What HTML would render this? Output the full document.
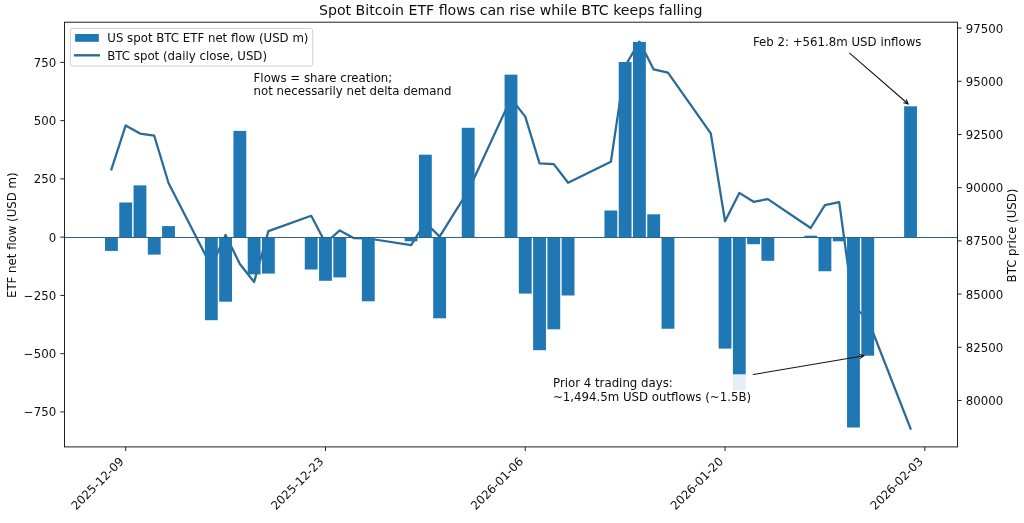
<!DOCTYPE html>
<html lang="en"><head><meta charset="utf-8"><title>Spot Bitcoin ETF flows can rise while BTC keeps falling</title>
<style>html,body{margin:0;padding:0;background:#fff;}body{width:1024px;height:523px;overflow:hidden;}svg{display:block;}text{font-family:"DejaVu Sans","Liberation Sans",sans-serif;fill:#0d0d0d;}</style></head><body>
<svg width="1024" height="523" viewBox="0 0 1024 523">
<rect width="1024" height="523" fill="#ffffff"/>
<polyline points="111.43,169.30 125.70,125.40 139.97,133.60 154.24,135.70 168.51,183.00 211.32,266.50 225.59,235.00 239.86,264.00 254.13,282.00 268.40,231.10 311.21,215.80 325.48,243.00 339.75,230.40 354.02,238.20 368.29,238.50 411.10,245.10 425.37,222.50 439.64,236.60 453.91,213.60 468.18,191.00 510.99,98.50 525.26,116.60 539.53,163.30 553.80,164.10 568.07,182.70 610.88,161.80 625.15,66.00 639.42,41.60 653.69,69.40 667.96,72.70 710.77,133.40 725.04,221.20 739.31,192.90 753.58,201.80 767.85,199.10 810.66,228.00 824.93,205.20 839.20,202.20 853.47,306.50 867.74,319.00 910.55,428.60" fill="none" stroke="#296a98" stroke-width="2.25" stroke-linejoin="round" stroke-linecap="square"/>
<rect x="105.01" y="237.15" width="12.84" height="13.75" fill="#1f77b4"/>
<rect x="119.28" y="202.50" width="12.84" height="34.65" fill="#1f77b4"/>
<rect x="133.55" y="185.40" width="12.84" height="51.75" fill="#1f77b4"/>
<rect x="147.82" y="237.15" width="12.84" height="17.45" fill="#1f77b4"/>
<rect x="162.09" y="226.10" width="12.84" height="11.05" fill="#1f77b4"/>
<rect x="204.90" y="237.15" width="12.84" height="83.05" fill="#1f77b4"/>
<rect x="219.17" y="237.15" width="12.84" height="64.55" fill="#1f77b4"/>
<rect x="233.44" y="130.90" width="12.84" height="106.25" fill="#1f77b4"/>
<rect x="247.71" y="237.15" width="12.84" height="37.25" fill="#1f77b4"/>
<rect x="261.98" y="237.15" width="12.84" height="36.45" fill="#1f77b4"/>
<rect x="304.79" y="237.15" width="12.84" height="32.35" fill="#1f77b4"/>
<rect x="319.06" y="237.15" width="12.84" height="43.65" fill="#1f77b4"/>
<rect x="333.33" y="237.15" width="12.84" height="40.25" fill="#1f77b4"/>
<rect x="361.87" y="237.15" width="12.84" height="64.15" fill="#1f77b4"/>
<rect x="404.68" y="237.15" width="12.84" height="4.15" fill="#1f77b4"/>
<rect x="418.95" y="154.70" width="12.84" height="82.45" fill="#1f77b4"/>
<rect x="433.22" y="237.15" width="12.84" height="81.15" fill="#1f77b4"/>
<rect x="461.76" y="127.80" width="12.84" height="109.35" fill="#1f77b4"/>
<rect x="504.57" y="74.65" width="12.84" height="162.50" fill="#1f77b4"/>
<rect x="518.84" y="237.15" width="12.84" height="56.45" fill="#1f77b4"/>
<rect x="533.11" y="237.15" width="12.84" height="113.05" fill="#1f77b4"/>
<rect x="547.38" y="237.15" width="12.84" height="92.15" fill="#1f77b4"/>
<rect x="561.65" y="237.15" width="12.84" height="58.35" fill="#1f77b4"/>
<rect x="604.46" y="210.50" width="12.84" height="26.65" fill="#1f77b4"/>
<rect x="618.73" y="62.00" width="12.84" height="175.15" fill="#1f77b4"/>
<rect x="633.00" y="41.90" width="12.84" height="195.25" fill="#1f77b4"/>
<rect x="647.27" y="214.30" width="12.84" height="22.85" fill="#1f77b4"/>
<rect x="661.54" y="237.15" width="12.84" height="91.60" fill="#1f77b4"/>
<rect x="718.62" y="237.15" width="12.84" height="111.45" fill="#1f77b4"/>
<rect x="732.89" y="237.15" width="12.84" height="153.15" fill="#1f77b4"/>
<rect x="747.16" y="237.15" width="12.84" height="7.05" fill="#1f77b4"/>
<rect x="761.43" y="237.15" width="12.84" height="23.65" fill="#1f77b4"/>
<rect x="804.24" y="235.70" width="12.84" height="1.45" fill="#1f77b4"/>
<rect x="818.51" y="237.15" width="12.84" height="34.10" fill="#1f77b4"/>
<rect x="832.78" y="237.15" width="12.84" height="4.15" fill="#1f77b4"/>
<rect x="847.05" y="237.15" width="12.84" height="190.35" fill="#1f77b4"/>
<rect x="861.32" y="237.15" width="12.84" height="118.55" fill="#1f77b4"/>
<rect x="904.13" y="106.30" width="12.84" height="130.85" fill="#1f77b4"/>
<line x1="64.50" y1="237.45" x2="957.50" y2="237.45" stroke="#2b6288" stroke-width="1.05"/>
<rect x="250.0" y="68.5" width="206" height="32" rx="2.4" fill="#ffffff" fill-opacity="0.88"/>
<rect x="549.3" y="374.3" width="206" height="32" rx="2.4" fill="#ffffff" fill-opacity="0.88"/>
<rect x="64.50" y="22.20" width="893.00" height="424.70" fill="none" stroke="#151515" stroke-width="0.95"/>
<line x1="60.35" y1="62.38" x2="64.50" y2="62.38" stroke="#151515" stroke-width="0.95"/>
<text x="56.20" y="66.88" font-size="11.78" text-anchor="end">750</text>
<line x1="60.35" y1="120.64" x2="64.50" y2="120.64" stroke="#151515" stroke-width="0.95"/>
<text x="56.20" y="125.14" font-size="11.78" text-anchor="end">500</text>
<line x1="60.35" y1="178.89" x2="64.50" y2="178.89" stroke="#151515" stroke-width="0.95"/>
<text x="56.20" y="183.39" font-size="11.78" text-anchor="end">250</text>
<line x1="60.35" y1="237.15" x2="64.50" y2="237.15" stroke="#151515" stroke-width="0.95"/>
<text x="56.20" y="241.65" font-size="11.78" text-anchor="end">0</text>
<line x1="60.35" y1="295.41" x2="64.50" y2="295.41" stroke="#151515" stroke-width="0.95"/>
<text x="56.20" y="299.91" font-size="11.78" text-anchor="end">−250</text>
<line x1="60.35" y1="353.67" x2="64.50" y2="353.67" stroke="#151515" stroke-width="0.95"/>
<text x="56.20" y="358.17" font-size="11.78" text-anchor="end">−500</text>
<line x1="60.35" y1="411.92" x2="64.50" y2="411.92" stroke="#151515" stroke-width="0.95"/>
<text x="56.20" y="416.42" font-size="11.78" text-anchor="end">−750</text>
<line x1="957.50" y1="28.07" x2="961.65" y2="28.07" stroke="#151515" stroke-width="0.95"/>
<text x="965.80" y="32.57" font-size="11.78">97500</text>
<line x1="957.50" y1="81.27" x2="961.65" y2="81.27" stroke="#151515" stroke-width="0.95"/>
<text x="965.80" y="85.77" font-size="11.78">95000</text>
<line x1="957.50" y1="134.47" x2="961.65" y2="134.47" stroke="#151515" stroke-width="0.95"/>
<text x="965.80" y="138.97" font-size="11.78">92500</text>
<line x1="957.50" y1="187.67" x2="961.65" y2="187.67" stroke="#151515" stroke-width="0.95"/>
<text x="965.80" y="192.17" font-size="11.78">90000</text>
<line x1="957.50" y1="240.87" x2="961.65" y2="240.87" stroke="#151515" stroke-width="0.95"/>
<text x="965.80" y="245.37" font-size="11.78">87500</text>
<line x1="957.50" y1="294.07" x2="961.65" y2="294.07" stroke="#151515" stroke-width="0.95"/>
<text x="965.80" y="298.57" font-size="11.78">85000</text>
<line x1="957.50" y1="347.27" x2="961.65" y2="347.27" stroke="#151515" stroke-width="0.95"/>
<text x="965.80" y="351.77" font-size="11.78">82500</text>
<line x1="957.50" y1="400.47" x2="961.65" y2="400.47" stroke="#151515" stroke-width="0.95"/>
<text x="965.80" y="404.97" font-size="11.78">80000</text>
<line x1="125.70" y1="446.90" x2="125.70" y2="451.05" stroke="#151515" stroke-width="0.95"/>
<text transform="translate(124.60,462.20) rotate(-45)" font-size="11.78" text-anchor="end">2025-12-09</text>
<line x1="325.48" y1="446.90" x2="325.48" y2="451.05" stroke="#151515" stroke-width="0.95"/>
<text transform="translate(324.38,462.20) rotate(-45)" font-size="11.78" text-anchor="end">2025-12-23</text>
<line x1="525.26" y1="446.90" x2="525.26" y2="451.05" stroke="#151515" stroke-width="0.95"/>
<text transform="translate(524.16,462.20) rotate(-45)" font-size="11.78" text-anchor="end">2026-01-06</text>
<line x1="725.04" y1="446.90" x2="725.04" y2="451.05" stroke="#151515" stroke-width="0.95"/>
<text transform="translate(723.94,462.20) rotate(-45)" font-size="11.78" text-anchor="end">2026-01-20</text>
<line x1="924.82" y1="446.90" x2="924.82" y2="451.05" stroke="#151515" stroke-width="0.95"/>
<text transform="translate(923.72,462.20) rotate(-45)" font-size="11.78" text-anchor="end">2026-02-03</text>
<text transform="translate(16.30,235.20) rotate(-90)" font-size="11.78" text-anchor="middle">ETF net flow (USD m)</text>
<text transform="translate(1015.80,235.50) rotate(-90)" font-size="11.78" text-anchor="middle">BTC price (USD)</text>
<text x="510.7" y="15.4" font-size="14.14" text-anchor="middle">Spot Bitcoin ETF flows can rise while BTC keeps falling</text>
<rect x="70.4" y="28.3" width="242.3" height="37.8" rx="2.4" fill="#ffffff" fill-opacity="0.8" stroke="#cccccc" stroke-width="0.95"/>
<rect x="75.1" y="34.0" width="23.7" height="7.8" fill="#1f77b4"/>
<line x1="75.1" y1="55.3" x2="98.8" y2="55.3" stroke="#296a98" stroke-width="2.37" stroke-linecap="square"/>
<text x="107.3" y="41.8" font-size="11.78">US spot BTC ETF net flow (USD m)</text>
<text x="107.3" y="59.6" font-size="11.78">BTC spot (daily close, USD)</text>
<text x="253.6" y="81.5" font-size="11.78">Flows = share creation;</text>
<text x="253.6" y="94.7" font-size="11.78">not necessarily net delta demand</text>
<text x="553.0" y="386.9" font-size="11.78">Prior 4 trading days:</text>
<text x="553.0" y="400.6" font-size="11.78">~1,494.5m USD outflows (~1.5B)</text>
<text x="753.0" y="46.1" font-size="11.78">Feb 2: +561.8m USD inflows</text>
<path d="M849.60,53.20 L908.20,104.00 M903.66,102.79 L908.20,104.00 L906.36,99.68" fill="none" stroke="#111" stroke-width="1.05" stroke-linejoin="miter" stroke-linecap="round"/>
<path d="M753.20,374.50 L864.00,355.70 M860.18,358.44 L864.00,355.70 L859.49,354.38" fill="none" stroke="#111" stroke-width="1.05" stroke-linejoin="miter" stroke-linecap="round"/>
</svg></body></html>
